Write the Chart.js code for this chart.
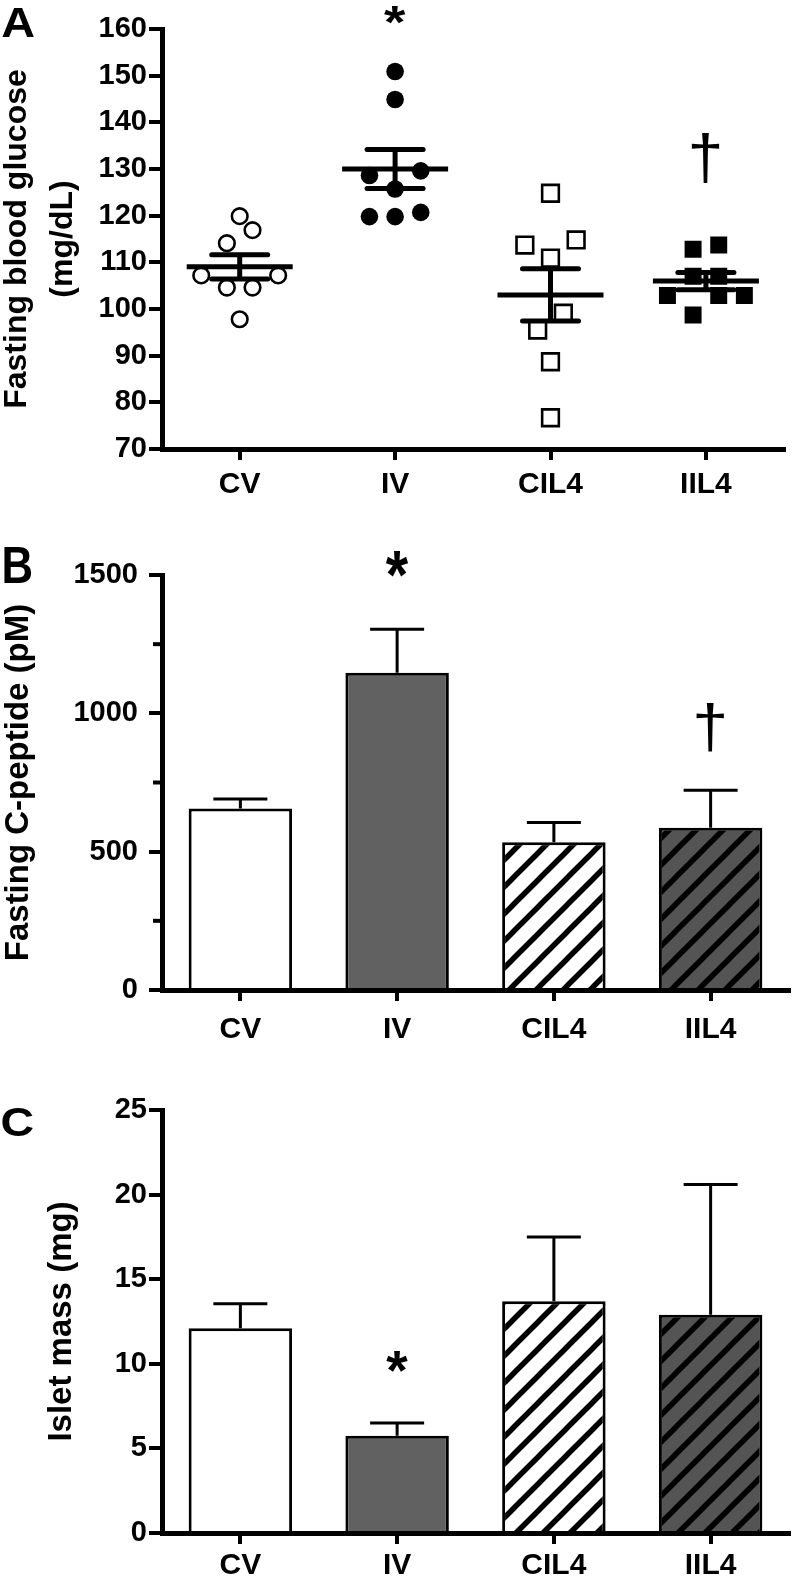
<!DOCTYPE html>
<html><head><meta charset="utf-8">
<script src="https://cdn.jsdelivr.net/npm/chart.js@4.4.1/dist/chart.umd.min.js"></script>
<style>
html,body{margin:0;padding:0;background:#fff;}
body{width:798px;height:1578px;position:relative;overflow:hidden;}
.panel{position:absolute;left:0;width:798px;}
</style></head><body>
<div class="panel" style="top:0;height:500px"><canvas id="chartA"></canvas></div>
<div class="panel" style="top:500px;height:550px"><canvas id="chartB"></canvas></div>
<div class="panel" style="top:1050px;height:528px"><canvas id="chartC"></canvas></div>
<script>
// ---------------- data ----------------
const groups = ['CV', 'IV', 'CIL4', 'IIL4'];

// Panel A: individual fasting blood glucose values (mg/dL)
const glucoseCV   = [119.9, 116.9, 114.1, 107.2, 107.2, 104.6, 104.6, 97.8];
const glucoseIV   = [150.9, 144.9, 129.6, 128.6, 125.7, 120.7, 119.8, 119.8];
const glucoseCIL4 = [124.8, 114.8, 113.7, 110.9, 99.1, 95.5, 88.7, 76.7];
const glucoseIIL4 = [113.7, 112.8, 107.0, 107.0, 102.9, 102.9, 102.9, 98.7];
const glucoseAxis = [70, 160, 10];          // min, max, step

// Panel B: fasting C-peptide (pM), mean and SEM
const cpeptideMean = [656, 1147, 534, 586];
const cpeptideSEM  = [34, 157, 71, 136];
const cpeptideAxis = [0, 1500, 500];
const cpeptideMinorTicks = [250, 750, 1250];

// Panel C: islet mass (mg), mean and SEM
const isletMean = [12.1, 5.75, 13.7, 12.9];
const isletSEM  = [1.45, 0.75, 3.8, 7.7];
const isletAxis = [0, 25, 5];

// significance marks: [group index, value position, symbol]
const marksA = [[1, 163, '*'], [3, 132.4, '†']];
const marksB = [[1, 1536, '*'], [3, 950, '†']];
const marksC = [[1, 10.1, '*']];

// ---------------- helpers ----------------
const FAM = "'Liberation Sans', Arial, sans-serif";
Chart.defaults.color = '#000';
Chart.defaults.font.family = FAM;

function fitGlyph(ctx, text, font, cx, cy, w, h) {
  ctx.save();
  ctx.font = font;
  ctx.textAlign = 'left';
  ctx.textBaseline = 'alphabetic';
  const m = ctx.measureText(text);
  const bw = m.actualBoundingBoxLeft + m.actualBoundingBoxRight;
  const bh = m.actualBoundingBoxAscent + m.actualBoundingBoxDescent;
  ctx.translate(cx, cy);
  ctx.scale(w / bw, h / bh);
  ctx.fillStyle = '#000';
  ctx.fillText(text, -bw / 2 + m.actualBoundingBoxLeft, bh / 2 - m.actualBoundingBoxDescent);
  ctx.restore();
}

// GraphPad-like scatter arrangement: points with similar values share a row
function swarm(values, rowGap, step) {
  const idx = values.map((v, i) => i).sort((a, b) => values[a] - values[b]);
  const off = new Array(values.length).fill(0);
  let row = [];
  const flush = () => {
    const n = row.length;
    if (!n) return;
    const slots = [];
    if (n % 2) { slots.push(0); for (let k = 1; slots.length < n; k++) slots.push(-k, k); }
    else { for (let k = 0.5; slots.length < n; k++) slots.push(-k, k); }
    row.forEach((i, j) => { off[i] = slots[j] * step; });
    row = [];
  };
  idx.forEach(i => {
    if (row.length && values[i] - values[row[0]] > rowGap) flush();
    row.push(i);
  });
  flush();
  return off;
}

function hatch(bg) {
  const s = 27;
  const c = document.createElement('canvas');
  c.width = s; c.height = s;
  const g = c.getContext('2d');
  g.fillStyle = bg; g.fillRect(0, 0, s, s);
  g.strokeStyle = '#000'; g.lineWidth = 5.5; g.lineCap = 'square';
  [0, s, 2 * s].forEach(k => {
    g.beginPath(); g.moveTo(k - s - 2, s + 2); g.lineTo(k + 2, -2); g.stroke();
  });
  return g.createPattern(c, 'repeat');
}

const titleFont = (size, extra) => Object.assign({family: FAM, size: size, weight: 'bold'}, extra || {});

function yScale(axis, titleText, titleSize, titlePad, fontExtra, tickPad) {
  return {
    type: 'linear', min: axis[0], max: axis[1],
    afterFit: s => { s.width = 162; },
    ticks: { stepSize: axis[2], font: {family: FAM, size: 29, weight: 'bold'}, color: '#000', padding: tickPad, callback: v => String(v) },
    grid: { display: true, drawOnChartArea: false, drawTicks: true, tickLength: 13, tickWidth: 4, lineWidth: 4, color: '#000', tickColor: '#000' },
    border: { display: true, width: 5, color: '#000' },
    title: { display: true, text: titleText, color: '#000', font: titleFont(titleSize, fontExtra), padding: {top: titlePad, bottom: 0} }
  };
}
function xGrid() {
  return { display: true, offset: false, drawOnChartArea: false, drawTicks: true, tickLength: 11, tickWidth: 4, lineWidth: 4, color: '#000', tickColor: '#000' };
}
const xTicks = (pad) => ({ font: {family: FAM, size: 30, weight: 'bold'}, color: '#000', padding: pad, maxRotation: 0, autoSkip: false });

const marksPlugin = (marks, sizes) => ({
  id: 'marks',
  afterDraw(chart) {
    const xs = chart.scales.x, ys = chart.scales.y;
    marks.forEach(m => {
      const isStar = m[2] === '*';
      const sz = isStar ? sizes.star : sizes.dagger;
      fitGlyph(chart.ctx, m[2], (isStar ? 'bold ' : '') + '60px ' + FAM,
        xs.getPixelForValue(m[0]), ys.getPixelForValue(m[1]), sz[0], sz[1]);
    });
  }
});
const letterPlugin = (letter, cx, cy, w, h) => ({
  id: 'letter',
  afterDraw(chart) { fitGlyph(chart.ctx, letter, 'bold 60px ' + FAM, cx, cy, w, h); }
});
const errorPlugin = (sem) => ({
  id: 'errbars',
  afterDatasetsDraw(chart) {
    const ctx = chart.ctx, ys = chart.scales.y;
    const meta = chart.getDatasetMeta(0);
    const data = chart.data.datasets[0].data;
    ctx.save();
    ctx.strokeStyle = '#000'; ctx.lineWidth = 3;
    meta.data.forEach((bar, i) => {
      const y0 = ys.getPixelForValue(data[i]);
      const y1 = ys.getPixelForValue(data[i] + sem[i]);
      ctx.beginPath();
      ctx.moveTo(bar.x, y0); ctx.lineTo(bar.x, y1);
      ctx.moveTo(bar.x - 27, y1); ctx.lineTo(bar.x + 27, y1);
      ctx.stroke();
    });
    ctx.restore();
  }
});
const minorTickPlugin = (vals) => ({
  id: 'minor',
  afterDraw(chart) {
    const ctx = chart.ctx, ys = chart.scales.y, x = chart.chartArea.left;
    ctx.save(); ctx.strokeStyle = '#000'; ctx.lineWidth = 4;
    vals.forEach(v => {
      const y = ys.getPixelForValue(v);
      ctx.beginPath(); ctx.moveTo(x - 9, y); ctx.lineTo(x, y); ctx.stroke();
    });
    ctx.restore();
  }
});

// ---------------- Panel A ----------------
const glucose = [glucoseCV, glucoseIV, glucoseCIL4, glucoseIIL4];
const pointLooks = [
  {pointStyle: 'circle', pointRadius: 7.8, pointBorderWidth: 2.6, pointBackgroundColor: '#fff'},
  {pointStyle: 'circle', pointRadius: 8.8, pointBorderWidth: 0, pointBackgroundColor: '#000'},
  {pointStyle: 'rect', pointRadius: 11.8, pointBorderWidth: 2.6, pointBackgroundColor: '#fff'},
  {pointStyle: 'rect', pointRadius: 12, pointBorderWidth: 0, pointBackgroundColor: '#000'}
];
const meanSemPlugin = {
  id: 'meanSem',
  afterDatasetsDraw(chart) {
    const ctx = chart.ctx, xs = chart.scales.x, ys = chart.scales.y;
    const seg = (a, b, c, d) => { ctx.beginPath(); ctx.moveTo(a, b); ctx.lineTo(c, d); ctx.stroke(); };
    ctx.save(); ctx.strokeStyle = '#000'; ctx.lineWidth = 5;
    glucose.forEach((vals, gi) => {
      const n = vals.length;
      const mean = vals.reduce((a, b) => a + b, 0) / n;
      const sd = Math.sqrt(vals.reduce((a, b) => a + (b - mean) * (b - mean), 0) / (n - 1));
      const sem = sd / Math.sqrt(n);
      const cx = xs.getPixelForValue(gi);
      const ym = ys.getPixelForValue(mean), yh = ys.getPixelForValue(mean + sem), yl = ys.getPixelForValue(mean - sem);
      ctx.lineCap = 'butt'; seg(cx - 53, ym, cx + 53, ym);
      ctx.lineCap = 'round'; seg(cx - 28, yh, cx + 28, yh); seg(cx - 28, yl, cx + 28, yl);
      ctx.lineCap = 'butt'; seg(cx, yh, cx, yl);
    });
    ctx.restore();
  }
};

new Chart(document.getElementById('chartA'), {
  type: 'scatter',
  data: {
    datasets: glucose.map((vals, gi) => {
      const off = swarm(vals, 4.5, 0.165);
      return Object.assign({
        label: groups[gi],
        data: vals.map((v, i) => ({x: gi + off[i], y: v})),
        pointBorderColor: '#000', showLine: false
      }, pointLooks[gi]);
    })
  },
  options: {
    responsive: true, maintainAspectRatio: false, animation: false, events: [],
    layout: {padding: {top: 29, right: 5, left: 0, bottom: 0}},
    plugins: {legend: {display: false}, tooltip: {enabled: false}},
    scales: {
      x: {
        type: 'linear', min: -0.5, max: 3.5,
        afterBuildTicks: s => { s.ticks = groups.map((g, i) => ({value: i})); },
        afterFit: s => { s.height = 51; },
        ticks: Object.assign(xTicks(7), {callback: v => groups[v]}),
        grid: xGrid(),
        border: {display: true, width: 5, color: '#000'}
      },
      y: yScale(glucoseAxis, ['Fasting blood glucose', '(mg/dL)'], 32, -6, {lineHeight: 1.44}, 2)
    }
  },
  plugins: [meanSemPlugin, marksPlugin(marksA, {star: [22, 18], dagger: [28, 50]}), letterPlugin('A', 18, 22, 32, 29)]
});

// ---------------- Panel B ----------------
const barFills = [ '#ffffff', '#616161', hatch('#ffffff'), hatch('#545454') ];

new Chart(document.getElementById('chartB'), {
  type: 'bar',
  data: {
    labels: groups,
    datasets: [{ data: cpeptideMean, backgroundColor: barFills, borderColor: '#000', borderWidth: 3, barPercentage: 0.66, categoryPercentage: 1 }]
  },
  options: {
    responsive: true, maintainAspectRatio: false, animation: false, events: [],
    layout: {padding: {top: 75, right: 9, left: 0, bottom: 0}},
    plugins: {legend: {display: false}, tooltip: {enabled: false}},
    scales: {
      x: { type: 'category', offset: true, afterFit: s => { s.height = 60; }, ticks: xTicks(11), grid: xGrid(), border: {display: true, width: 5, color: '#000'} },
      y: yScale(cpeptideAxis, 'Fasting C-peptide (pM)', 33, -1, null, 11)
    }
  },
  plugins: [errorPlugin(cpeptideSEM), minorTickPlugin(cpeptideMinorTicks), marksPlugin(marksB, {star: [23, 26], dagger: [28, 48]}), letterPlugin('B', 18, 65, 27, 36)]
});

// ---------------- Panel C ----------------
new Chart(document.getElementById('chartC'), {
  type: 'bar',
  data: {
    labels: groups,
    datasets: [{ data: isletMean, backgroundColor: barFills, borderColor: '#000', borderWidth: 3, barPercentage: 0.66, categoryPercentage: 1 }]
  },
  options: {
    responsive: true, maintainAspectRatio: false, animation: false, events: [],
    layout: {padding: {top: 60, right: 9, left: 0, bottom: 0}},
    plugins: {legend: {display: false}, tooltip: {enabled: false}},
    scales: {
      x: { type: 'category', offset: true, afterFit: s => { s.height = 45; }, ticks: xTicks(4), grid: xGrid(), border: {display: true, width: 5, color: '#000'} },
      y: yScale(isletAxis, 'Islet mass (mg)', 33, 42, null, 2)
    }
  },
  plugins: [errorPlugin(isletSEM), marksPlugin(marksC, {star: [22, 21], dagger: [28, 48]}), letterPlugin('C', 17.5, 72, 31, 29)]
});
</script>
</body></html>
